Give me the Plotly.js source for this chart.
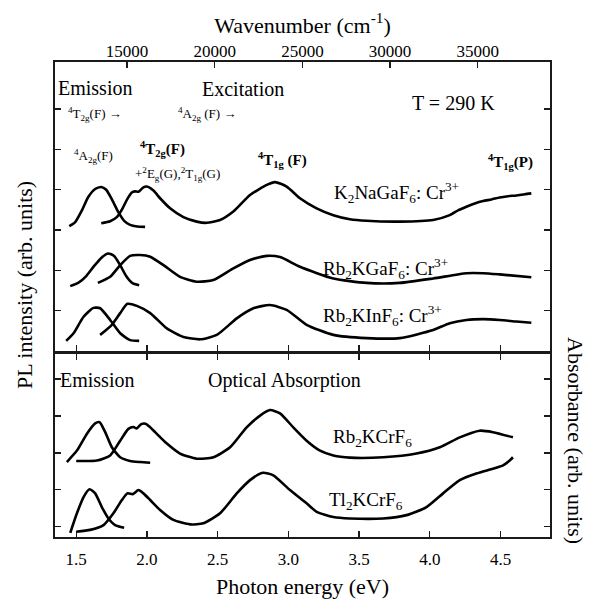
<!DOCTYPE html>
<html>
<head>
<meta charset="utf-8">
<script src="https://cdn.plot.ly/plotly-3.0.1.min.js"></script>
<style>html,body{margin:0;padding:0;background:#fff;}#chart{width:589px;height:599px;}</style>
</head>
<body>
<div id="chart"></div>
<script>
// ---------- data (photon energy in eV, intensity in arb. units) ----------
// Top panel: K2NaGaF6:Cr3+
const kngEmX = [1.451,1.493,1.542,1.585,1.634,1.677,1.712,1.754,1.797,1.839,1.881,1.931,1.987];
const kngEmY = [3.10,3.20,3.50,3.82,4.02,4.07,4.00,3.75,3.45,3.23,3.13,3.09,3.08];
const kngExX = [1.677,1.740,1.787,1.825,1.858,1.893,1.915,1.940,1.975,1.999,2.046,2.093,2.164,2.258,2.352,2.423,2.517,2.611,2.729,2.847,2.906,2.988,3.082,3.200,3.318,3.435,3.553,3.788,4.024,4.141,4.200,4.259,4.318,4.377,4.436,4.494,4.553,4.612,4.671,4.718];
const kngExY = [3.17,3.22,3.32,3.52,3.75,3.93,3.96,3.95,4.06,4.08,3.98,3.79,3.54,3.32,3.21,3.18,3.25,3.46,3.87,4.12,4.19,4.08,3.79,3.54,3.37,3.27,3.23,3.21,3.25,3.37,3.49,3.58,3.66,3.72,3.76,3.81,3.84,3.86,3.89,3.91];
// Top panel: Rb2KGaF6:Cr3+
const rkgEmX = [1.458,1.514,1.571,1.627,1.677,1.726,1.768,1.811,1.853,1.895,1.945];
const rkgEmY = [1.61,1.69,1.86,2.11,2.31,2.42,2.36,2.13,1.86,1.69,1.63];
const rkgExX = [1.653,1.740,1.811,1.881,1.952,2.023,2.117,2.234,2.352,2.470,2.611,2.729,2.847,2.941,3.082,3.318,3.553,3.788,4.024,4.259,4.377,4.494,4.718];
const rkgExY = [1.69,1.84,2.13,2.36,2.38,2.34,2.13,1.84,1.72,1.76,2.05,2.26,2.36,2.33,2.09,1.80,1.69,1.69,1.80,1.93,1.93,1.90,1.83];
// Top panel: Rb2KInF6:Cr3+
const rkiEmX = [1.429,1.481,1.552,1.622,1.669,1.740,1.811,1.881,1.945];
const rkiEmY = [0.25,0.44,0.85,1.07,1.06,0.77,0.44,0.27,0.25];
const rkiExX = [1.669,1.752,1.811,1.862,1.929,2.023,2.141,2.258,2.376,2.494,2.635,2.753,2.870,2.988,3.129,3.318,3.553,3.788,4.024,4.141,4.259,4.377,4.494,4.612,4.718];
const rkiExY = [0.40,0.65,0.94,1.17,1.12,0.94,0.56,0.35,0.29,0.40,0.81,1.06,1.14,1.02,0.65,0.40,0.32,0.32,0.52,0.69,0.77,0.79,0.77,0.73,0.70];
// Bottom panel: Rb2KCrF6
const rkcEmX = [1.434,1.505,1.576,1.634,1.665,1.705,1.752,1.811,1.881,1.952,2.023];
const rkcEmY = [1.75,2.06,2.52,2.80,2.83,2.56,2.15,1.88,1.78,1.75,1.73];
const rkcAbX = [1.500,1.646,1.740,1.811,1.869,1.905,1.927,1.960,1.990,2.015,2.058,2.141,2.234,2.352,2.470,2.588,2.705,2.800,2.870,2.941,3.035,3.129,3.224,3.318,3.435,3.671,3.906,4.071,4.212,4.353,4.447,4.588];
const rkcAbY = [1.78,1.79,1.93,2.33,2.65,2.70,2.66,2.78,2.79,2.72,2.56,2.25,1.98,1.84,1.88,2.15,2.69,3.01,3.16,3.07,2.69,2.33,2.06,1.93,1.87,1.88,1.98,2.15,2.42,2.60,2.56,2.42];
// Bottom panel: Tl2KCrF6
const tkcEmX = [1.458,1.505,1.552,1.594,1.634,1.681,1.728,1.775,1.839];
const tkcEmY = [-0.17,0.36,0.80,1.01,0.90,0.53,0.22,0.04,-0.03];
const tkcAbX = [1.500,1.599,1.693,1.763,1.823,1.862,1.900,1.940,1.975,2.023,2.093,2.187,2.305,2.399,2.517,2.635,2.729,2.819,2.894,3.011,3.129,3.200,3.318,3.435,3.671,3.836,3.977,4.094,4.212,4.329,4.447,4.518,4.565,4.588];
const tkcAbY = [-0.14,-0.09,0.04,0.36,0.72,0.90,0.88,0.99,0.90,0.72,0.45,0.18,0.06,0.09,0.36,0.90,1.26,1.46,1.39,0.99,0.63,0.40,0.26,0.22,0.22,0.31,0.53,0.90,1.26,1.44,1.57,1.66,1.79,1.88];

// axis ticks
const energyTicks = [1.5,2.0,2.5,3.0,3.5,4.0,4.5];
const energyLabels = ['1.5','2.0','2.5','3.0','3.5','4.0','4.5'];
const waveTicks = [15000,20000,25000,30000,35000];
const waveLabels = ['15000','20000','25000','30000','35000'];
const topYTicks = [1,2,3,4,5,6];
const botYTicks = [0,1,2,3,4];
const EV_TO_CM = 8065.5;
const eRange = [1.35, 4.85];

// ---------- plot ----------
const FONT = "'Liberation Serif', 'Times New Roman', serif";
const lineStyle = {color:'#000', width:2.6, shape:'spline', smoothing:0.6};
function tr(x, y, xa, ya){ return {x:x, y:y, xaxis:xa, yaxis:ya, mode:'lines', line:lineStyle, hoverinfo:'skip', showlegend:false}; }

const traces = [
  tr(kngEmX,kngEmY,'x2','y'), tr(kngExX,kngExY,'x2','y'),
  tr(rkgEmX,rkgEmY,'x2','y'), tr(rkgExX,rkgExY,'x2','y'),
  tr(rkiEmX,rkiEmY,'x2','y'), tr(rkiExX,rkiExY,'x2','y'),
  tr(rkcEmX,rkcEmY,'x','y2'), tr(rkcAbX,rkcAbY,'x','y2'),
  tr(tkcEmX,tkcEmY,'x','y2'), tr(tkcAbX,tkcAbY,'x','y2'),
  {x:[], y:[], xaxis:'x3', yaxis:'y', mode:'lines', showlegend:false, hoverinfo:'skip'}
];

const L=55, R=550, T=62, B=537;
const px = v => (v - L)/(R - L);
const py = v => (B - v)/(B - T);

const axCommon = {showline:true, linecolor:'#1a1a1a', linewidth:1.6, ticks:'inside', ticklen:6, tickwidth:1.4, tickcolor:'#1a1a1a', showgrid:false, zeroline:false,
  tickfont:{family:FONT, size:17, color:'#000'}};

function ann(text, x, y, size, opts){
  return Object.assign({text:text, x:px(x), y:py(y), xref:'paper', yref:'paper', xanchor:'left', yanchor:'middle', showarrow:false,
    font:{family:FONT, size:size, color:'#000'}}, opts||{});
}

const layout = {
  width:589, height:599,
  margin:{l:L, r:589-R, t:T, b:599-B, pad:0},
  paper_bgcolor:'#fff', plot_bgcolor:'#fff',
  font:{family:FONT, color:'#000'},
  xaxis: Object.assign({}, axCommon, {domain:[0,1], anchor:'y2', range:eRange, tickvals:energyTicks, ticktext:energyLabels, mirror:'ticks', ticklabelstandoff:6,
     title:{text:'Photon energy (eV)', font:{family:FONT, size:22, color:'#000'}, standoff:14}}),
  xaxis2: Object.assign({}, axCommon, {domain:[0,1], anchor:'y', matches:'x', tickvals:energyTicks, showticklabels:false}),
  xaxis3: Object.assign({}, axCommon, {domain:[0,1], anchor:'y', side:'top', overlaying:'x2',
     range:[eRange[0]*EV_TO_CM, eRange[1]*EV_TO_CM], tickvals:waveTicks, ticktext:waveLabels, ticklabelstandoff:-3,
     title:{text:'Wavenumber (cm<sup>-1</sup>)', font:{family:FONT, size:22, color:'#000'}, standoff:2}}),
  yaxis: Object.assign({}, axCommon, {domain:[py(351),1], anchor:'x2', range:[0,7.17], tickvals:topYTicks, showticklabels:false, mirror:'ticks'}),
  yaxis2: Object.assign({}, axCommon, {domain:[0,py(354)], anchor:'x', range:[-0.283,4.68], tickvals:botYTicks, showticklabels:false, mirror:'ticks'}),
  annotations:[
    ann('PL intensity (arb. units)', 24, 285, 22, {xanchor:'center', textangle:-90}),
    ann('Absorbance (arb. units)', 576, 440, 22, {xanchor:'center', textangle:90}),
    ann('Emission', 56, 88, 20),
    ann('Excitation', 200, 89, 20),
    ann('T = 290 K', 410, 103, 20),
    ann('<sup>4</sup>T<sub>2g</sub>(F) \u2192', 66, 114, 13),
    ann('<sup>4</sup>A<sub>2g</sub> (F) \u2192', 176, 114, 13),
    ann('<sup>4</sup>A<sub>2g</sub>(F)', 72, 156, 13),
    ann('<b><sup>4</sup>T<sub>2g</sub>(F)</b>', 138, 149, 15),
    ann('+<sup>2</sup>E<sub>g</sub>(G),<sup>2</sup>T<sub>1g</sub>(G)', 133, 174, 13),
    ann('<b><sup>4</sup>T<sub>1g</sub> (F)</b>', 256, 160, 15),
    ann('<b><sup>4</sup>T<sub>1g</sub>(P)</b>', 486, 162, 15),
    ann('K<sub>2</sub>NaGaF<sub>6</sub>: Cr<sup>3+</sup>', 332, 193, 19),
    ann('Rb<sub>2</sub>KGaF<sub>6</sub>: Cr<sup>3+</sup>', 321, 268, 19),
    ann('Rb<sub>2</sub>KInF<sub>6</sub>: Cr<sup>3+</sup>', 321, 315, 19),
    ann('Emission', 58, 380, 20),
    ann('Optical Absorption', 206, 380, 20),
    ann('Rb<sub>2</sub>KCrF<sub>6</sub>', 331, 438, 19),
    ann('Tl<sub>2</sub>KCrF<sub>6</sub>', 327, 501, 19)
  ]
};

Plotly.newPlot('chart', traces, layout, {staticPlot:true, displayModeBar:false});
</script>
</body>
</html>
